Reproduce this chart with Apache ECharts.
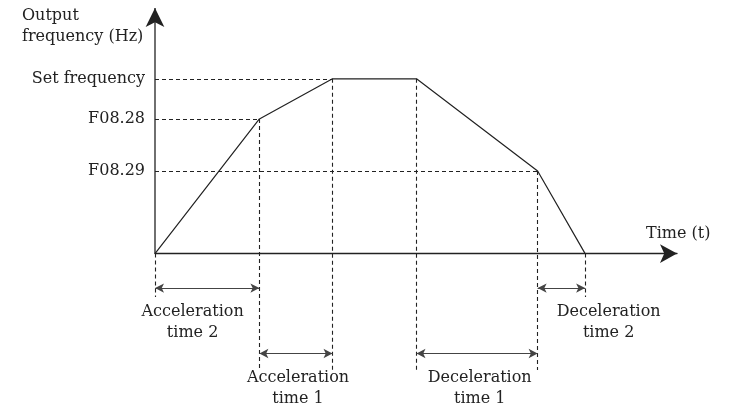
<!DOCTYPE html>
<html>
<head>
<meta charset="utf-8">
<title>Output frequency profile</title>
<script src="https://cdn.jsdelivr.net/npm/echarts@6.0.0/dist/echarts.min.js"></script>
<style>
  html, body { margin: 0; padding: 0; background: #fff; }
  #chart { width: 729px; height: 407px; }
</style>
</head>
<body>
<div id="chart"></div>
<script>
// frequency profile: corner points (time, frequency) in axis units
const profileTime = [0, 20.0, 34.0, 50.1, 73.3, 82.4]
const profileFreq = [0, 57, 74, 74, 35, 0]

// frequency levels marked on the vertical axis
const levelNames = ['F08.29', 'F08.28', 'Set frequency']
const levelValues = [35, 57, 74]

// time spans shown under the time axis
const spanNames = ['Acceleration\ntime 2', 'Acceleration\ntime 1', 'Deceleration\ntime 1', 'Deceleration\ntime 2']
const spanStart = [0, 20.0, 50.1, 73.3]
const spanEnd = [20.0, 34.0, 73.3, 82.4]
const spanRow = [-14.6, -42.3, -42.3, -14.6]
const spanLabelX = [7.2, 27.4, 62.2, 86.9]
const spanLabelY = [-29.2, -56.9, -56.9, -29.2]

// how far the vertical guide lines drop below the time axis
const guideBottom = [-18.4, -49.3, -49.3, -49.3, -49.3, -18.4]

const Y_MIN = -62
const Y_MAX = 104

const FONT = 'DejaVu Serif'
const INK = '#222'

const chart = echarts.init(document.getElementById('chart'), null, { renderer: 'canvas' })

// dashed guides: from the vertical axis to each corner, and down from each corner
const guides = []
profileTime.forEach((t, i) => {
  const f = profileFreq[i]
  const idx = levelValues.indexOf(f)
  if (idx >= 0 && (i === 0 || profileFreq[i - 1] !== f)) {
    guides.push([{ coord: [0, f] }, { coord: [t, f] }])
  }
  guides.push([{ coord: [t, f] }, { coord: [t, guideBottom[i]] }])
})

const spans = spanNames.map((n, i) => [
  { coord: [spanStart[i], spanRow[i]] },
  { coord: [spanEnd[i], spanRow[i]] }
])

chart.setOption({
  animation: false,
  backgroundColor: '#fff',
  title: {
    text: 'Output\nfrequency (Hz)',
    left: 22,
    top: 5,
    padding: 0,
    textStyle: {
      fontFamily: FONT,
      fontSize: 16,
      fontWeight: 'normal',
      color: INK,
      lineHeight: 21
    }
  },
  grid: {
    left: 155,
    right: 52,
    top: 8,
    bottom: 7
  },
  xAxis: {
    type: 'value',
    min: 0,
    max: 100,
    name: 'Time (t)',
    nameLocation: 'end',
    nameGap: -31,
    nameTextStyle: {
      fontFamily: FONT,
      fontSize: 16,
      color: INK,
      align: 'left',
      verticalAlign: 'bottom',
      lineHeight: 16,
      padding: [0, 0, 12, 0]
    },
    axisLine: {
      onZero: true,
      symbol: ['none', 'arrow'],
      symbolSize: [14, 17],
      lineStyle: { color: INK, width: 1.3 }
    },
    axisTick: { show: false },
    axisLabel: { show: false },
    splitLine: { show: false }
  },
  yAxis: {
    type: 'value',
    min: Y_MIN,
    max: Y_MAX,
    axisLine: { show: false },
    axisTick: { show: false },
    splitLine: { show: false },
    axisLabel: {
      customValues: levelValues,
      margin: 10,
      fontFamily: FONT,
      fontSize: 16,
      color: INK,
      formatter: (v) => levelNames[levelValues.indexOf(v)] || ''
    }
  },
  series: [
    {
      // the vertical (frequency) axis with its arrow head
      name: 'frequency axis',
      type: 'line',
      silent: true,
      clip: false,
      data: [
        { value: [0, 0], symbol: 'none' },
        { value: [0, Y_MAX], symbol: 'arrow', symbolSize: [14, 19] }
      ],
      itemStyle: { color: INK, opacity: 1 },
      lineStyle: { color: INK, width: 1.3 },
      z: 3
    },
    {
      name: 'output frequency',
      type: 'line',
      silent: true,
      data: profileTime.map((t, i) => [t, profileFreq[i]]),
      symbol: 'none',
      lineStyle: { color: INK, width: 1.2 },
      markLine: {
        silent: true,
        symbol: ['none', 'none'],
        label: { show: false },
        lineStyle: { color: INK, width: 1.1, type: [4, 3] },
        data: guides
      },
      z: 4
    },
    {
      name: 'time spans',
      type: 'line',
      silent: true,
      data: [],
      markLine: {
        silent: true,
        symbol: ['arrow', 'arrow'],
        symbolSize: [7, 9],
        label: { show: false },
        lineStyle: { color: '#444', width: 1.2, type: 'solid' },
        data: spans
      }
    },
    {
      name: 'span labels',
      type: 'scatter',
      silent: true,
      symbolSize: 0,
      itemStyle: { opacity: 1 },
      data: spanNames.map((n, i) => ({ name: n, value: [spanLabelX[i], spanLabelY[i]] })),
      label: {
        show: true,
        position: [0, 0],
        align: 'center',
        verticalAlign: 'middle',
        formatter: (p) => p.name,
        fontFamily: FONT,
        fontSize: 16,
        lineHeight: 21,
        color: INK
      }
    }
  ]
})
</script>
</body>
</html>
